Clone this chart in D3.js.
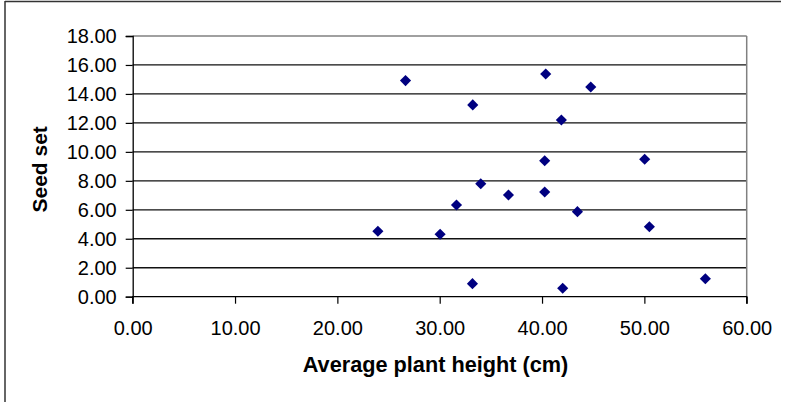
<!DOCTYPE html>
<html>
<head>
<meta charset="utf-8">
<script src="https://cdn.jsdelivr.net/npm/d3@7"></script>
<style>
  html, body { margin: 0; padding: 0; background: #fff; }
  svg { display: block; font-family: "Liberation Sans", Arial, sans-serif; }
</style>
</head>
<body>
<svg id="chart" width="790" height="402"></svg>
<script>
// Average plant height (cm) per plot
const plantHeight = [26.66, 40.36, 44.76, 33.23, 41.89, 40.26, 50.03, 34.01, 36.72,
                     40.26, 31.64, 43.46, 30.04, 23.96, 50.49, 33.20, 42.02, 55.96];
// Seed set per plot
const seedSet = [14.92, 15.38, 14.48, 13.24, 12.20, 9.39, 9.49, 7.80, 7.02,
                 7.23, 6.33, 5.87, 4.31, 4.52, 4.83, 0.90, 0.58, 1.24];

const xTicks = [0, 10, 20, 30, 40, 50, 60];
const yTicks = [0, 2, 4, 6, 8, 10, 12, 14, 16, 18];

const xTitle = "Average plant height (cm)";
const yTitle = "Seed set";

const svg = d3.select("#chart");
const plot = { left: 132.7, right: 746.7, top: 36, bottom: 296.7 };

const x = d3.scaleLinear().domain([0, 60]).range([plot.left, plot.right]);
const y = d3.scaleLinear().domain([0, 18]).range([plot.bottom, plot.top]);

// chart frame (top and left edges)
svg.append("line").attr("x1", 5).attr("x2", 781).attr("y1", 1.5).attr("y2", 1.5)
  .attr("stroke", "#333").attr("stroke-width", 1.5);
svg.append("line").attr("x1", 5).attr("x2", 5).attr("y1", 1).attr("y2", 402)
  .attr("stroke", "#333").attr("stroke-width", 1.5);

// horizontal gridlines
svg.append("g").selectAll("line")
  .data(yTicks.filter(d => d > 0))
  .join("line")
  .attr("x1", plot.left).attr("x2", plot.right)
  .attr("y1", d => y(d)).attr("y2", d => y(d))
  .attr("stroke", d => d === 18 ? "#808080" : "#111")
  .attr("stroke-width", d => d === 18 ? 1.5 : 1.3);

// plot area right edge
svg.append("line")
  .attr("x1", plot.right).attr("x2", plot.right)
  .attr("y1", plot.top).attr("y2", plot.bottom)
  .attr("stroke", "#808080").attr("stroke-width", 1.5);

const fmt = d3.format(".2f");

// y axis
const yAxis = svg.append("g")
  .attr("transform", `translate(${plot.left},0)`)
  .call(d3.axisLeft(y).tickValues(yTicks).tickFormat(fmt).tickSize(7).tickPadding(9));
// x axis
const xAxis = svg.append("g")
  .attr("transform", `translate(0,${plot.bottom})`)
  .call(d3.axisBottom(x).tickValues(xTicks).tickFormat(fmt).tickSize(7).tickPadding(17));

[xAxis, yAxis].forEach(g => {
  g.select(".domain").attr("stroke", "#000").attr("stroke-width", 1.3);
  g.selectAll(".tick line").attr("stroke", "#000").attr("stroke-width", 1.2);
  g.selectAll(".tick text")
    .attr("fill", "#000")
    .attr("font-size", 20)
    .attr("font-family", "'Liberation Sans', Arial, sans-serif");
});
xAxis.select(".domain").attr("d", `M${plot.left},7V0H${plot.right}V7`);

// data points as diamonds
const diamond = d3.symbol().type(d3.symbolSquare).size(62);
svg.append("g").selectAll("path")
  .data(plantHeight.map((h, i) => ({ h, s: seedSet[i] })))
  .join("path")
  .attr("d", diamond)
  .attr("transform", d => `translate(${x(d.h)},${y(d.s)}) rotate(45)`)
  .attr("fill", "#000080");

// axis titles
svg.append("text")
  .attr("x", 435.5).attr("y", 372)
  .attr("text-anchor", "middle")
  .attr("font-size", 21.7).attr("font-weight", "bold")
  .attr("fill", "#000")
  .text(xTitle);

svg.append("text")
  .attr("transform", `translate(46.5,${(plot.top + plot.bottom) / 2 + 3}) rotate(-90)`)
  .attr("text-anchor", "middle")
  .attr("font-size", 21).attr("font-weight", "bold")
  .attr("fill", "#000")
  .text(yTitle);
</script>
</body>
</html>
